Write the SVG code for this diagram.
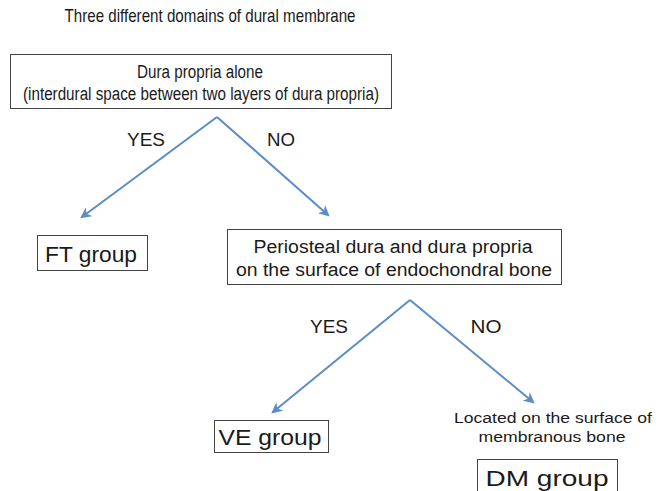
<svg xmlns="http://www.w3.org/2000/svg" width="665" height="491" viewBox="0 0 665 491">
<defs>
<marker id="ah" viewBox="0 0 10 10" refX="8" refY="5" markerWidth="11" markerHeight="11" markerUnits="userSpaceOnUse" orient="auto">
<path d="M0,0 L10,5 L0,10 L3,5 z" fill="#5b8cc8"/>
</marker>
<style>
text{font-family:"Liberation Sans",Arial,sans-serif;fill:#1a1a1a;text-anchor:middle}
.box{fill:#fff;stroke:#444;stroke-width:1}
.t{font-size:19px}
.m{font-size:18px}
.l{font-size:22px}
.s{font-size:15.5px}
.c{fill:none;stroke:#5b8cc8;stroke-width:2;marker-end:url(#ah)}
</style>
</defs>
<rect width="665" height="491" fill="#fff"/>
<text id="title" class="t" x="210" y="22" textLength="291" lengthAdjust="spacingAndGlyphs">Three different domains of dural membrane</text>
<g id="connectors">
<path class="c" d="M217,117 L82,217"/>
<path class="c" d="M217,117 L328,215"/>
<path class="c" d="M410,300 L273,412"/>
<path class="c" d="M410,300 L533,402"/>
<text class="m" x="146" y="146" textLength="38" lengthAdjust="spacingAndGlyphs">YES</text>
<text class="m" x="281" y="146" textLength="28" lengthAdjust="spacingAndGlyphs">NO</text>
<text class="m" x="329" y="333" textLength="38" lengthAdjust="spacingAndGlyphs">YES</text>
<text class="m" x="486" y="333" textLength="31" lengthAdjust="spacingAndGlyphs">NO</text>
</g>
<g id="n1">
<rect class="box" x="10.5" y="54.5" width="381" height="54"/>
<text class="m" x="200" y="78" textLength="126" lengthAdjust="spacingAndGlyphs">Dura propria alone</text>
<text class="m" x="201" y="100" textLength="356" lengthAdjust="spacingAndGlyphs">(interdural space between two layers of dura propria)</text>
</g>
<g id="ft">
<rect class="box" x="37.5" y="235.5" width="110" height="35"/>
<text class="l" x="91" y="262" textLength="92" lengthAdjust="spacingAndGlyphs">FT group</text>
</g>
<g id="n2">
<rect class="box" x="227.5" y="229.5" width="334" height="55"/>
<text class="m" x="393" y="253" textLength="279" lengthAdjust="spacingAndGlyphs">Periosteal dura and dura propria</text>
<text class="m" x="394" y="276" textLength="316" lengthAdjust="spacingAndGlyphs">on the surface of endochondral bone</text>
</g>
<g id="ve">
<rect class="box" x="214.5" y="420.5" width="114" height="32"/>
<text class="l" x="270" y="445" textLength="103" lengthAdjust="spacingAndGlyphs">VE group</text>
</g>
<g id="loc">
<text class="s" x="553" y="423" textLength="198" lengthAdjust="spacingAndGlyphs">Located on the surface of</text>
<text class="s" x="552" y="442" textLength="147" lengthAdjust="spacingAndGlyphs">membranous bone</text>
</g>
<g id="dm">
<rect class="box" x="477.5" y="459.5" width="140" height="40"/>
<text class="l" x="547" y="486" textLength="123" lengthAdjust="spacingAndGlyphs">DM group</text>
</g>
</svg>
